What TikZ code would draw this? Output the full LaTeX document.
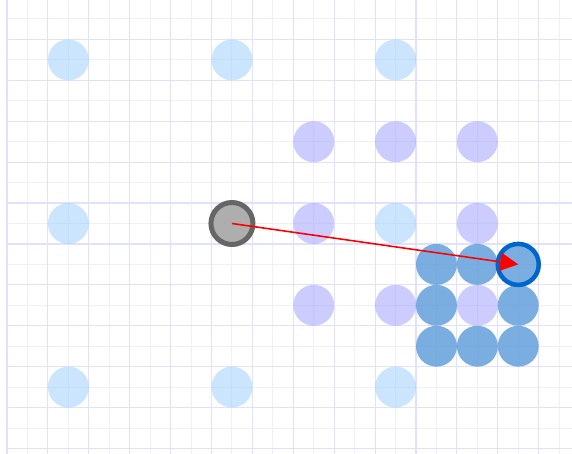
\documentclass[tikz,border=0pt]{standalone}
\usetikzlibrary{arrows.meta}
\definecolor{gridmajor}{HTML}{E0E0FF}
\definecolor{gridminor}{HTML}{EFEFFC}
\definecolor{lightdot}{HTML}{99CCFF}
\definecolor{lavdot}{HTML}{9999FF}
\definecolor{bluedot}{HTML}{5A9AD8}
\definecolor{hiline}{HTML}{0066CC}
\definecolor{grayfill}{HTML}{AEAEAE}
\definecolor{grayline}{HTML}{666666}
\tikzset{
  dot/.style={circle, inner sep=0pt, minimum size=40.9pt},
  lightd/.style={dot, fill=lightdot, fill opacity=0.5},
  lavd/.style={dot, fill=lavdot, fill opacity=0.5},
  blued/.style={dot, fill=bluedot, fill opacity=0.8},
  hid/.style={dot, minimum size=41pt, fill=bluedot, fill opacity=0.8, draw=hiline, line width=4.5pt},
  grayd/.style={dot, minimum size=42pt, fill=grayfill, draw=grayline, line width=5pt},
  vec/.style={red, line width=1.6pt, -{Triangle[length=18pt, width=18pt]}},
  majl/.style={gridmajor, line width=1.1pt},
  minl/.style={gridminor, line width=1pt}
}
\begin{document}
\begin{tikzpicture}[x=20.45pt, y=-20.45pt]
\useasboundingbox (-0.3423,-0.9291) rectangle (27.6284,21.2714);
% grid: minor lines first, then major lines
\foreach \i in {1,3,...,27} \draw[minl] (\i,-0.9291) -- (\i,21.2714);
\foreach \j in {0,2,...,20} \draw[minl] (0,\j) -- (27.6284,\j);
\foreach \i in {0,2,...,26} \draw[majl] (\i,-0.9291) -- (\i,21.2714);
\foreach \j in {-1,1,...,21} \draw[majl] (0,\j) -- (27.6284,\j);
% light blue dots
\node[lightd] (l1) at (3,2) {};
\node[lightd] (l2) at (11,2) {};
\node[lightd] (l3) at (19,2) {};
\node[lightd] (l4) at (3,10) {};
\node[lightd] (l5) at (19,10) {};
\node[lightd] (l6) at (3,18) {};
\node[lightd] (l7) at (11,18) {};
\node[lightd] (l8) at (19,18) {};
% lavender dots
\node[lavd] (v1) at (15,6) {};
\node[lavd] (v2) at (19,6) {};
\node[lavd] (v3) at (23,6) {};
\node[lavd] (v4) at (15,10) {};
\node[lavd] (v5) at (23,10) {};
\node[lavd] (v6) at (15,14) {};
\node[lavd] (v7) at (19,14) {};
\node[lavd] (v8) at (23,14) {};
% blue dots
\node[blued] (b1) at (21,12) {};
\node[blued] (b2) at (23,12) {};
\node[blued] (b3) at (21,14) {};
\node[blued] (b4) at (25,14) {};
\node[blued] (b5) at (21,16) {};
\node[blued] (b6) at (23,16) {};
\node[blued] (b7) at (25,16) {};
% highlighted and gray
\node[hid] (h) at (25,12) {};
\node[grayd] (g) at (11,10) {};
% vector
\draw[vec] (g.center) -- (h.center);
\end{tikzpicture}
\end{document}
